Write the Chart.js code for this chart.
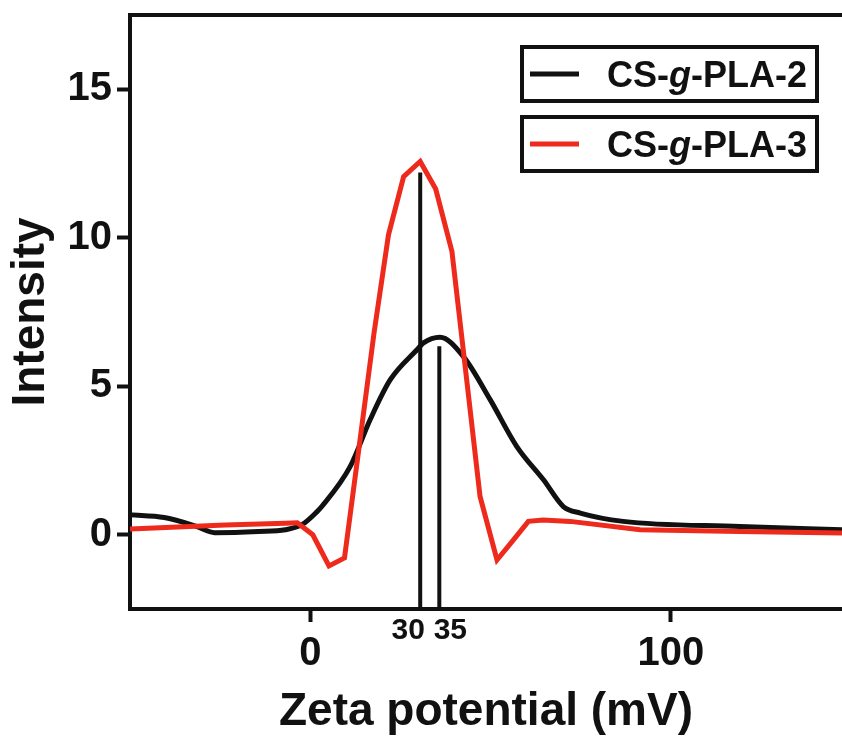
<!DOCTYPE html>
<html>
<head>
<meta charset="utf-8">
<script src="https://cdn.jsdelivr.net/npm/chart.js@4/dist/chart.umd.min.js"></script>
<style>
	html, body {margin: 0; padding: 0; background: #fff;}
</style>
</head>
<body>
<canvas id="chart" width="842" height="738"></canvas>
<script>
var seriesNames = [['CS-', 'g', '-PLA-2'], ['CS-', 'g', '-PLA-3']];

var zetaBlack = [-50, -40.5, -32.0, -26.5, -14.4, -6.9, -2.3, 1.9, 3.2, 11.1, 16.6, 22.2, 29.6, 31.4, 36.0, 42.5, 49.9, 57.3, 64.7, 70.2, 74.9, 86.8, 119.2, 147.5];
var intensityBlack = [0.67, 0.58, 0.3, 0.07, 0.11, 0.17, 0.34, 0.78, 0.95, 2.3, 3.87, 5.22, 6.23, 6.46, 6.65, 6.0, 4.55, 2.97, 1.85, 0.95, 0.73, 0.45, 0.28, 0.17];

var zetaRed = [-50, -23.6, -6.9, -3.6, 0.7, 5.2, 9.5, 13.6, 17.7, 21.7, 25.9, 30.5, 34.8, 39.3, 43.6, 47.1, 51.8, 56.2, 60.5, 64.6, 72.1, 91.5, 119.2, 147.5];
var intensityRed = [0.19, 0.33, 0.39, 0.4, 0.0, -1.05, -0.78, 3.0, 6.8, 10.1, 12.06, 12.57, 11.64, 9.54, 5.0, 1.29, -0.85, -0.2, 0.45, 0.5, 0.45, 0.17, 0.11, 0.06];

var peakZeta = [30.5, 35.8];
var peakTop = [12.2, 6.35];
var peakLabels = ['30', '35'];

var xTicks = [0, 100];
var yTicks = [0, 5, 10, 15];

var black = '#111111';
var red = '#ee2a1c';
var fontFamily = "'Liberation Sans', Arial, Helvetica, sans-serif";

function toPoints(xs, ys)
{
	return xs.map(function (x, i) {return {x: x, y: ys[i]}});
}

var datasets =
[
	{
		label: seriesNames[0].join(''),
		data: toPoints(zetaBlack, intensityBlack),
		borderColor: black,
		borderWidth: 5,
		cubicInterpolationMode: 'monotone',
		pointRadius: 0,
		order: 1
	},
	{
		label: seriesNames[1].join(''),
		data: toPoints(zetaRed, intensityRed),
		borderColor: red,
		borderWidth: 5,
		tension: 0,
		borderJoinStyle: 'miter',
		pointRadius: 0,
		order: 0
	}
];

peakZeta.forEach(function (zeta, i)
{
	datasets.push(
	{
		label: 'peak ' + peakLabels[i],
		data: [{x: zeta, y: -2.5}, {x: zeta, y: peakTop[i]}],
		borderColor: black,
		borderWidth: 4,
		pointRadius: 0,
		order: 1
	});
});

var extras =
{
	id: 'extras',
	afterDraw: function (chart)
	{
		var ctx = chart.ctx;
		var area = chart.chartArea;
		var x = chart.scales.x;

		ctx.save();

		// top frame line
		ctx.strokeStyle = black;
		ctx.lineWidth = 4;
		ctx.beginPath();
		ctx.moveTo(area.left - 2, area.top);
		ctx.lineTo(area.right, area.top);
		ctx.stroke();

		// peak labels under the axis
		ctx.fillStyle = black;
		ctx.font = 'bold 30px ' + fontFamily;
		ctx.textAlign = 'center';
		ctx.textBaseline = 'alphabetic';
		ctx.fillText(peakLabels[0], x.getPixelForValue(peakZeta[0]) - 12, area.bottom + 30);
		ctx.fillText(peakLabels[1], x.getPixelForValue(peakZeta[1]) + 11, area.bottom + 30);

		// legend boxes
		var colors = [black, red];
		seriesNames.forEach(function (parts, i)
		{
			var top = 47 + i * 70;
			var left = 522;
			ctx.lineWidth = 4;
			ctx.strokeStyle = black;
			ctx.strokeRect(left, top, 295, 54);

			ctx.strokeStyle = colors[i];
			ctx.lineWidth = 5;
			ctx.beginPath();
			ctx.moveTo(left + 8, top + 27);
			ctx.lineTo(left + 57, top + 27);
			ctx.stroke();

			var tx = left + 85;
			var ty = top + 40;
			ctx.textAlign = 'left';
			ctx.fillStyle = black;
			parts.forEach(function (part, j)
			{
				ctx.font = (j == 1 ? 'italic ' : '') + 'bold 36px ' + fontFamily;
				ctx.fillText(part, tx, ty);
				tx += ctx.measureText(part).width;
			});
		});

		ctx.restore();
	}
};

new Chart(document.getElementById('chart'),
{
	type: 'line',
	data: {datasets: datasets},
	options:
	{
		responsive: false,
		animation: false,
		devicePixelRatio: 1,
		layout: {padding: {top: 15, right: 0, left: 0, bottom: 0}},
		plugins:
		{
			legend: {display: false},
			tooltip: {enabled: false}
		},
		scales:
		{
			x:
			{
				type: 'linear',
				min: -50,
				max: 147.5,
				afterFit: function (scale)
				{
					scale.height = 129;
					scale.paddingLeft = 0;
					scale.paddingRight = 0;
				},
				afterBuildTicks: function (scale) {scale.ticks = xTicks.map(function (v) {return {value: v}})},
				grid: {drawOnChartArea: false, drawTicks: true, tickLength: 13, tickWidth: 4, tickColor: black},
				border: {display: true, color: black, width: 4},
				ticks: {color: black, padding: 8, maxRotation: 0, font: {family: fontFamily, size: 40, weight: 'bold'}},
				title:
				{
					display: true,
					text: 'Zeta potential (mV)',
					color: black,
					padding: {top: 0, bottom: 0},
					font: {family: fontFamily, size: 46, weight: 'bold', lineHeight: 1.1}
				}
			},
			y:
			{
				min: -2.5,
				max: 17.5,
				afterFit: function (scale)
				{
					scale.width = 130;
					scale.paddingTop = 0;
					scale.paddingBottom = 0;
				},
				afterBuildTicks: function (scale) {scale.ticks = yTicks.map(function (v) {return {value: v}})},
				grid: {drawOnChartArea: false, drawTicks: true, tickLength: 13, tickWidth: 4, tickColor: black},
				border: {display: true, color: black, width: 4},
				ticks: {color: black, padding: 5, font: {family: fontFamily, size: 40, weight: 'bold'}},
				title:
				{
					display: true,
					text: 'Intensity',
					color: black,
					padding: {top: 6, bottom: 0},
					font: {family: fontFamily, size: 46, weight: 'bold', lineHeight: 1.1}
				}
			}
		}
	},
	plugins: [extras]
});
</script>
</body>
</html>
